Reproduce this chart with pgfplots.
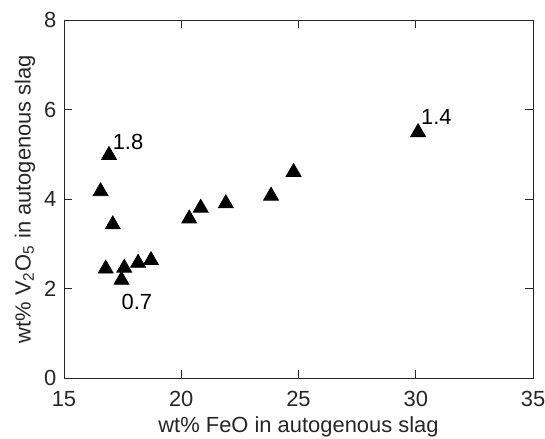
\documentclass[border=0pt]{standalone}
\usepackage{fontspec}
\setmainfont{Liberation Sans}
\usepackage{pgfplots}
\pgfplotsset{compat=1.18}
\usetikzlibrary{calc}
\definecolor{mgray}{rgb}{0.15,0.15,0.15}
\begin{document}
\fontsize{11}{13}\selectfont
\begin{tikzpicture}
\begin{axis}[
    scale only axis,
    width=234.5bp,
    height=179bp,
    xmin=15, xmax=35,
    ymin=0, ymax=8,
    xtick={15,20,25,30,35},
    ytick={0,2,4,6,8},
    tick align=inside,
    tick pos=both,
    major tick length=4bp,
    axis line style={mgray, line width=0.4pt},
    every tick/.style={mgray, line width=0.4pt},
    tick label style={font=\fontsize{11}{13}\selectfont, text=mgray},
    xticklabel style={yshift=-3bp},
    /pgf/number format/assume math mode=true,
    xlabel={wt\% FeO in autogenous slag},
    ylabel={wt\% V\textsubscript{2}O\textsubscript{5} in autogenous slag},
    label style={font=\fontsize{11}{13}\selectfont, text=mgray},
    xlabel style={yshift=3bp},
    ylabel style={yshift=-3bp},
]
\addplot[only marks, mark=triangle*, mark size=4.3bp, black] coordinates {
    (16.92, 4.98)
    (16.56, 4.17)
    (17.08, 3.43)
    (16.78, 2.44)
    (17.57, 2.46)
    (17.45, 2.19)
    (18.16, 2.57)
    (18.71, 2.63)
    (20.34, 3.56)
    (20.83, 3.80)
    (21.90, 3.90)
    (23.83, 4.07)
    (24.79, 4.60)
    (30.10, 5.49)
};
\node[black] at (axis cs:17.73, 5.27) {1.8};
\node[black] at (axis cs:18.11, 1.70) {0.7};
\node[black] at (axis cs:30.88, 5.83) {1.4};
\end{axis}
\pgfresetboundingbox
\path[use as bounding box] ($(current axis.south west)+(-32bp,-30.5bp)$) rectangle ($(current axis.north east)+(6bp,10bp)$);
\end{tikzpicture}
\end{document}
